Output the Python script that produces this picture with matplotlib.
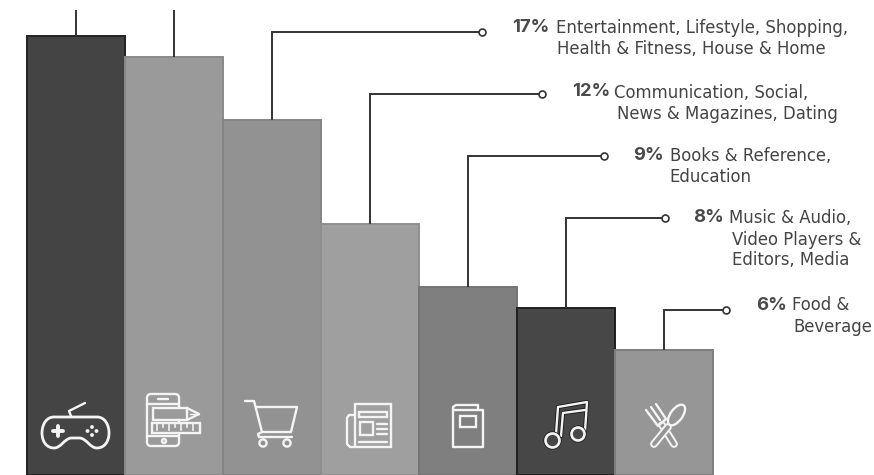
import matplotlib
matplotlib.use("Agg")
import matplotlib.pyplot as plt
from matplotlib.patches import Circle, Ellipse, FancyBboxPatch, PathPatch, Rectangle
from matplotlib.path import Path
from matplotlib.transforms import Affine2D

# -----------------------------
# Data
# -----------------------------

categories = ["Games", "Tools", "Lifestyle", "Communication", "Books", "Music", "Food"]
shares = [21, 20, 17, 12, 9, 8, 6]
bar_colors = ["#444444", "#9a9a9a", "#929292", "#9f9f9f", "#7f7f7f", "#474747", "#969696"]
edge_colors = ["#222222", "#8a8a8a", "#848484", "#8f8f8f", "#747474", "#1e1e1e", "#7e7e7e"]

pct_labels = ["17%", "12%", "9%", "8%", "6%"]
text_lines = [
    ["Entertainment, Lifestyle, Shopping,", "Health & Fitness, House & Home"],
    ["Communication, Social,", "News & Magazines, Dating"],
    ["Books & Reference,", "Education"],
    ["Music & Audio,", "Video Players &", "Editors, Media"],
    ["Food &", "Beverage"],
]

# -----------------------------
# Layout (pixels, y measured from the top)
# -----------------------------

W, H = 874, 475
BAR_LEFT = 27
BAR_STEP = 98
PX_PER_PCT = 20.9

leader_top = [10, 10, 32, 94, 156, 218, 310]
leader_end = [None, None, 482, 542, 604, 665, 726]
pct_x = [512, 572, 633, 693, 756]
pct_y = [27, 92, 156, 218, 305]
line_x = [[556, 557], [614, 617], [670, 669], [729, 732, 732], [792, 793]]
line_y = [[28, 49], [93, 114], [156, 177], [218, 240, 260], [305, 327]]

fig = plt.figure(figsize=(W / 100, H / 100), dpi=100, facecolor="white")
ax = fig.add_axes([0, 0, 1, 1])
x0 = -0.5 - BAR_LEFT / BAR_STEP
ax.set_xlim(x0, x0 + W / BAR_STEP)
ax.set_ylim(0, H / PX_PER_PCT)
ax.axis("off")


def dx(px):
    return x0 + px / BAR_STEP


def dy(py):
    return (H - py) / PX_PER_PCT


# pixel space for the icons, y flipped
T = Affine2D().scale(1, -1).translate(0, H)

# -----------------------------
# Bars
# -----------------------------

ax.bar(
    range(len(shares)),
    shares,
    width=1.0,
    color=bar_colors,
    edgecolor=edge_colors,
    linewidth=1.4,
    zorder=2,
)

# -----------------------------
# Leader lines
# -----------------------------

for i, share in enumerate(shares):
    ax.plot([i, i], [share, dy(leader_top[i])], color="#333333", lw=1.4, zorder=3,
            solid_capstyle="butt")
    if leader_end[i] is None:
        continue
    ax.plot([i, dx(leader_end[i])], [dy(leader_top[i])] * 2, color="#333333", lw=1.4,
            zorder=3, solid_capstyle="projecting")
    ax.plot(dx(leader_end[i]), dy(leader_top[i]), "o", ms=5, mfc="white",
            mec="#333333", mew=1.2, zorder=4)

# -----------------------------
# Labels
# -----------------------------

for k, pct in enumerate(pct_labels):
    ax.text(pct_x[k] / W, 1 - pct_y[k] / H, pct, transform=ax.transAxes, fontsize=13.3,
            family="Inter", fontweight="bold", color="#4a4a4a", ha="left", va="center")
    for j, text in enumerate(text_lines[k]):
        ax.text(line_x[k][j] / W, 1 - line_y[k][j] / H, text, transform=ax.transAxes,
                fontsize=11.9, family="DejaVu Sans", color="#444444", ha="left", va="center")

# -----------------------------
# Icons
# -----------------------------

WHITE = "#f4f4f4"
LW = 1.7


def line(pts, lw=LW, color=WHITE, z=5):
    xs, ys = zip(*pts)
    ax.plot(xs, ys, color=color, lw=lw, transform=T, zorder=z,
            solid_capstyle="round", solid_joinstyle="round")


def box(x1, y1, x2, y2):
    ax.add_patch(Rectangle((x1, y1), x2 - x1, y2 - y1, fill=False, ec=WHITE, lw=LW,
                           transform=T, zorder=5))


def ring(cx, cy, r, face="none", lw=LW, z=5):
    ax.add_patch(Circle((cx, cy), r, fc=face, ec=WHITE, lw=lw, transform=T, zorder=z))


# game controller
M, L, C, Z = Path.MOVETO, Path.LINETO, Path.CURVE4, Path.CLOSEPOLY
ax.add_patch(PathPatch(Path(
    [(54, 417), (97, 417),
     (105, 417), (109, 425), (109, 433),
     (109, 442), (104, 448), (97, 448),
     (90, 448), (87, 439), (80, 438),
     (71, 438),
     (64, 439), (61, 448), (54, 448),
     (47, 448), (42, 442), (42, 433),
     (42, 425), (46, 417), (54, 417),
     (54, 417)],
    [M, L, C, C, C, C, C, C, C, C, C, L, C, C, C, C, C, C, C, C, C, Z],
), fill=False, ec=WHITE, lw=2.0, transform=T, zorder=5))
line([(71, 416), (69, 411), (85, 403)])
line([(53, 431), (63, 431)], lw=2.8)
line([(58, 426), (58, 436)], lw=2.8)
for cx, cy in [(92, 427), (96.5, 431), (92, 435), (87.5, 431)]:
    ax.add_patch(Circle((cx, cy), 1.9, fc=WHITE, ec="none", transform=T, zorder=5))

# phone with pencil and ruler
ax.add_patch(FancyBboxPatch((147, 394), 32, 52, boxstyle="round,pad=0,rounding_size=4",
                            fill=False, ec=WHITE, lw=LW, transform=T, zorder=5))
line([(158, 399), (168, 399)])
line([(147, 404), (179, 404)])
line([(147, 436), (179, 436)])
ax.add_patch(Rectangle((153, 408), 34, 12, fc=bar_colors[1], ec=WHITE, lw=LW, transform=T,
                       zorder=6))
line([(187, 408), (199, 414), (187, 420)], z=6)
line([(190, 414), (199, 414)], lw=1.0, z=6)
ax.add_patch(Rectangle((152, 423), 48, 10, fc=bar_colors[1], ec=WHITE, lw=LW, transform=T,
                       zorder=6))
for n, tx in enumerate([157, 163, 169, 175, 181, 187, 193]):
    ax.plot([tx, tx], [423, 430 if n % 2 == 0 else 427], color=WHITE, lw=1.2, transform=T,
            zorder=7)
ring(164, 441, 2)

# shopping cart
line([(245, 401), (254, 401), (262, 432), (291, 432), (297, 407), (257, 407)])
line([(262, 432), (258, 434), (259, 437), (292, 437)])
ring(263, 443, 3.6)
ring(287, 443, 3.6)

# newspaper
box(355, 404, 391, 447)
line([(355, 415), (349, 415), (347, 418), (347, 444), (350, 447), (355, 447)])
box(359, 412, 387, 417)
box(360, 422, 373, 435)
for ly in [424, 429, 434]:
    line([(377, ly), (387, ly)])
line([(359, 442), (387, 442)])

# book
line([(478, 405), (456, 405), (453, 407), (453, 447), (483, 447), (483, 410), (454, 410)])
line([(478, 405), (478, 410)])
box(460, 416, 476, 427)

# music notes
for width, col, z in [(3.0, "#1c1c1c", 5), (LW, WHITE, 6)]:
    line([(556, 434), (558, 407), (587, 402), (585, 431)], lw=width, color=col, z=z)
    line([(561, 436), (563, 413), (585, 410)], lw=width, color=col, z=z)
ax.add_patch(Circle((552.5, 440.5), 7, fc=bar_colors[5], ec="#1c1c1c", lw=3.0, transform=T, zorder=6))
ring(552.5, 440.5, 7, face=bar_colors[5], lw=1.9, z=7)
ax.add_patch(Circle((578, 434), 6.5, fc=bar_colors[5], ec="#1c1c1c", lw=3.0, transform=T, zorder=6))
ring(578, 434, 6.5, face=bar_colors[5], lw=1.9, z=7)

# fork and spoon
line([(662, 425), (674, 444)], lw=5.6)
line([(662, 425), (674, 444)], lw=2.8, color=bar_colors[6])
line([(646, 410), (658, 426), (666, 419), (656, 404)], z=6)
line([(651, 407), (660, 420)], z=6)
line([(668, 427), (654, 444)], lw=5.6, z=6)
line([(668, 427), (654, 444)], lw=2.8, color=bar_colors[6], z=6)
ax.add_patch(Ellipse((676.5, 415), 12, 24, angle=36, fc=bar_colors[6], ec=WHITE, lw=LW,
                     transform=T, zorder=7))

fig.savefig("out.png", dpi=100)
